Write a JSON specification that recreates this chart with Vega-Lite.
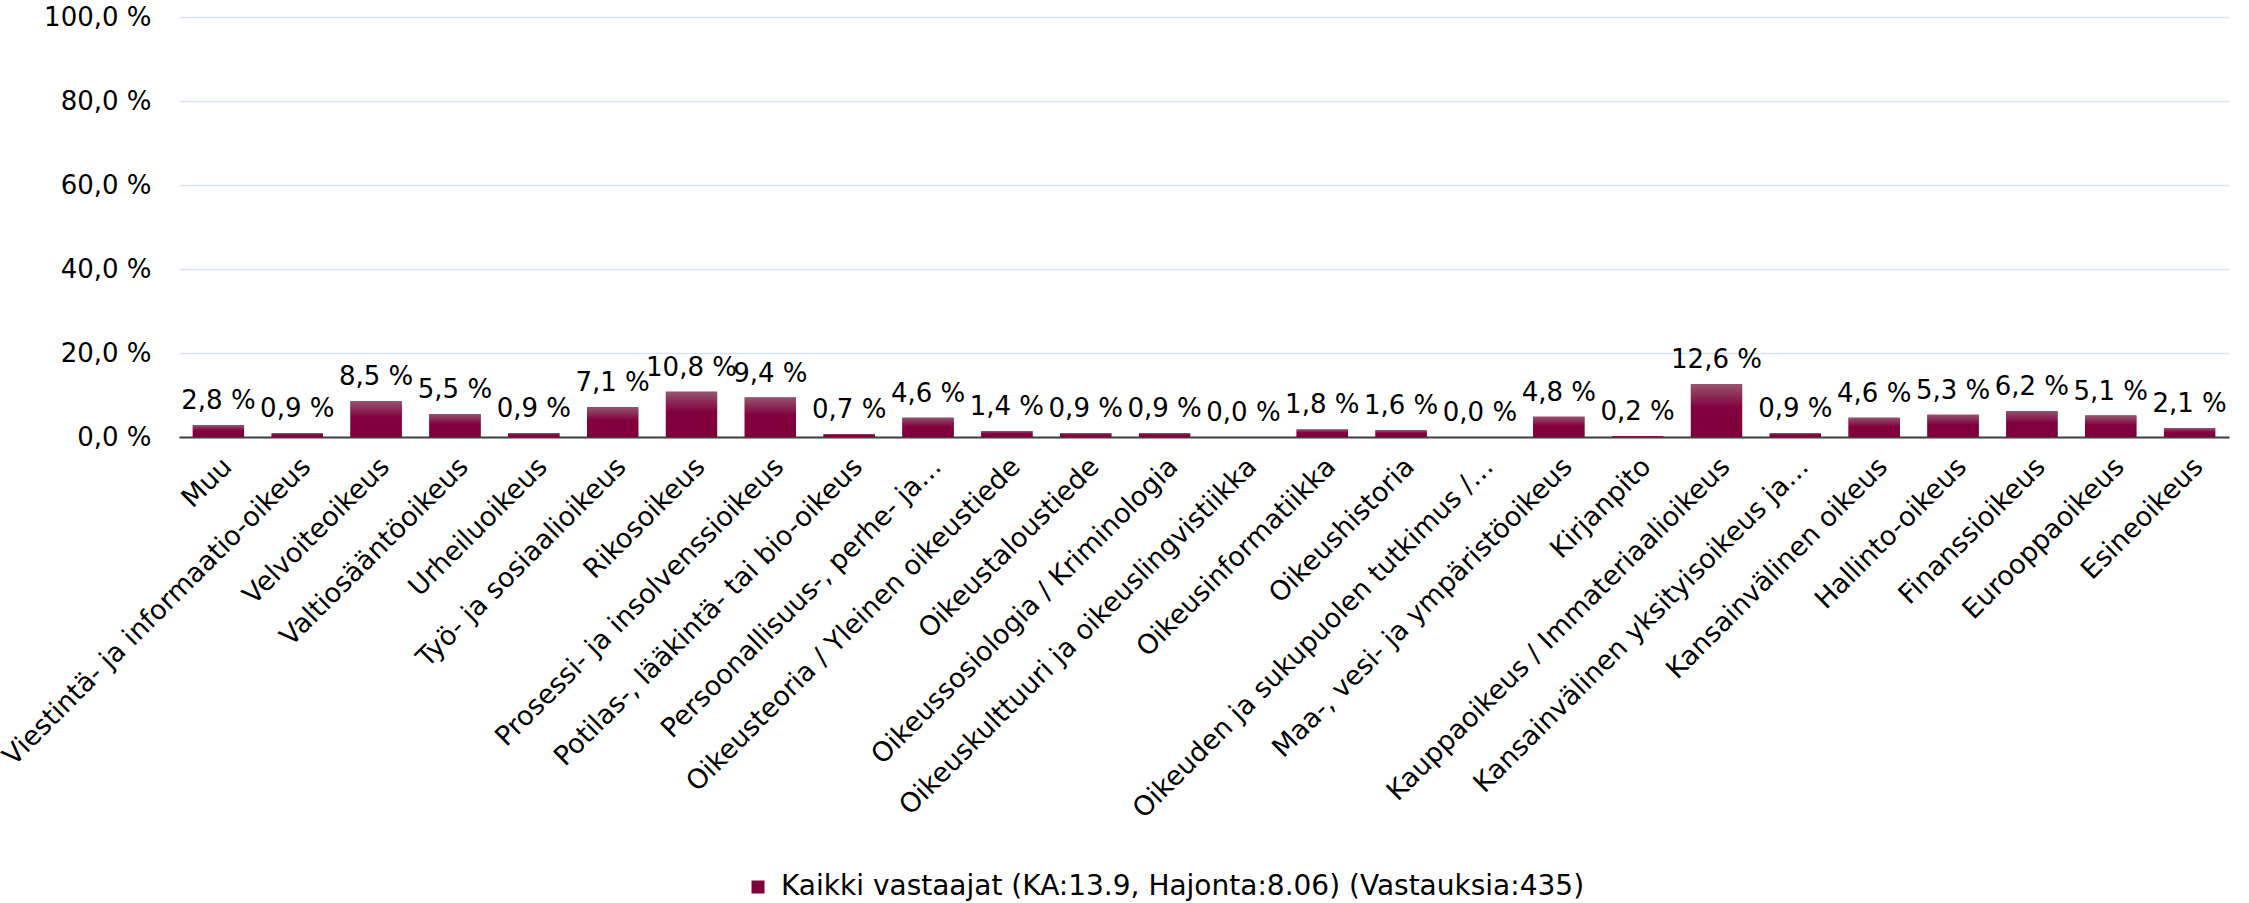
{
  "$schema": "https://vega.github.io/schema/vega-lite/v6.json",
  "width": 2050,
  "height": 420,
  "autosize": {"type": "none"},
  "padding": {"left": 179, "top": 17, "right": 20, "bottom": 466},
  "background": "white",
  "config": {"view": {"stroke": null}, "font": "DejaVu Sans"},
  "data": {
    "values": [
      {"ala": "Muu", "osuus": 2.8, "teksti": "2,8 %", "sarja": "Kaikki vastaajat (KA:13.9, Hajonta:8.06) (Vastauksia:435)"},
      {"ala": "Viestintä- ja informaatio-oikeus", "osuus": 0.9, "teksti": "0,9 %", "sarja": "Kaikki vastaajat (KA:13.9, Hajonta:8.06) (Vastauksia:435)"},
      {"ala": "Velvoiteoikeus", "osuus": 8.5, "teksti": "8,5 %", "sarja": "Kaikki vastaajat (KA:13.9, Hajonta:8.06) (Vastauksia:435)"},
      {"ala": "Valtiosääntöoikeus", "osuus": 5.5, "teksti": "5,5 %", "sarja": "Kaikki vastaajat (KA:13.9, Hajonta:8.06) (Vastauksia:435)"},
      {"ala": "Urheiluoikeus", "osuus": 0.9, "teksti": "0,9 %", "sarja": "Kaikki vastaajat (KA:13.9, Hajonta:8.06) (Vastauksia:435)"},
      {"ala": "Työ- ja sosiaalioikeus", "osuus": 7.1, "teksti": "7,1 %", "sarja": "Kaikki vastaajat (KA:13.9, Hajonta:8.06) (Vastauksia:435)"},
      {"ala": "Rikosoikeus", "osuus": 10.8, "teksti": "10,8 %", "sarja": "Kaikki vastaajat (KA:13.9, Hajonta:8.06) (Vastauksia:435)"},
      {"ala": "Prosessi- ja insolvenssioikeus", "osuus": 9.4, "teksti": "9,4 %", "sarja": "Kaikki vastaajat (KA:13.9, Hajonta:8.06) (Vastauksia:435)"},
      {"ala": "Potilas-, lääkintä- tai bio-oikeus", "osuus": 0.7, "teksti": "0,7 %", "sarja": "Kaikki vastaajat (KA:13.9, Hajonta:8.06) (Vastauksia:435)"},
      {"ala": "Persoonallisuus-, perhe- ja…", "osuus": 4.6, "teksti": "4,6 %", "sarja": "Kaikki vastaajat (KA:13.9, Hajonta:8.06) (Vastauksia:435)"},
      {"ala": "Oikeusteoria / Yleinen oikeustiede", "osuus": 1.4, "teksti": "1,4 %", "sarja": "Kaikki vastaajat (KA:13.9, Hajonta:8.06) (Vastauksia:435)"},
      {"ala": "Oikeustaloustiede", "osuus": 0.9, "teksti": "0,9 %", "sarja": "Kaikki vastaajat (KA:13.9, Hajonta:8.06) (Vastauksia:435)"},
      {"ala": "Oikeussosiologia / Kriminologia", "osuus": 0.9, "teksti": "0,9 %", "sarja": "Kaikki vastaajat (KA:13.9, Hajonta:8.06) (Vastauksia:435)"},
      {"ala": "Oikeuskulttuuri ja oikeuslingvistiikka", "osuus": 0.0, "teksti": "0,0 %", "sarja": "Kaikki vastaajat (KA:13.9, Hajonta:8.06) (Vastauksia:435)"},
      {"ala": "Oikeusinformatiikka", "osuus": 1.8, "teksti": "1,8 %", "sarja": "Kaikki vastaajat (KA:13.9, Hajonta:8.06) (Vastauksia:435)"},
      {"ala": "Oikeushistoria", "osuus": 1.6, "teksti": "1,6 %", "sarja": "Kaikki vastaajat (KA:13.9, Hajonta:8.06) (Vastauksia:435)"},
      {"ala": "Oikeuden ja sukupuolen tutkimus /…", "osuus": 0.0, "teksti": "0,0 %", "sarja": "Kaikki vastaajat (KA:13.9, Hajonta:8.06) (Vastauksia:435)"},
      {"ala": "Maa-, vesi- ja ympäristöoikeus", "osuus": 4.8, "teksti": "4,8 %", "sarja": "Kaikki vastaajat (KA:13.9, Hajonta:8.06) (Vastauksia:435)"},
      {"ala": "Kirjanpito", "osuus": 0.2, "teksti": "0,2 %", "sarja": "Kaikki vastaajat (KA:13.9, Hajonta:8.06) (Vastauksia:435)"},
      {"ala": "Kauppaoikeus / Immateriaalioikeus", "osuus": 12.6, "teksti": "12,6 %", "sarja": "Kaikki vastaajat (KA:13.9, Hajonta:8.06) (Vastauksia:435)"},
      {"ala": "Kansainvälinen yksityisoikeus ja…", "osuus": 0.9, "teksti": "0,9 %", "sarja": "Kaikki vastaajat (KA:13.9, Hajonta:8.06) (Vastauksia:435)"},
      {"ala": "Kansainvälinen oikeus", "osuus": 4.6, "teksti": "4,6 %", "sarja": "Kaikki vastaajat (KA:13.9, Hajonta:8.06) (Vastauksia:435)"},
      {"ala": "Hallinto-oikeus", "osuus": 5.3, "teksti": "5,3 %", "sarja": "Kaikki vastaajat (KA:13.9, Hajonta:8.06) (Vastauksia:435)"},
      {"ala": "Finanssioikeus", "osuus": 6.2, "teksti": "6,2 %", "sarja": "Kaikki vastaajat (KA:13.9, Hajonta:8.06) (Vastauksia:435)"},
      {"ala": "Eurooppaoikeus", "osuus": 5.1, "teksti": "5,1 %", "sarja": "Kaikki vastaajat (KA:13.9, Hajonta:8.06) (Vastauksia:435)"},
      {"ala": "Esineoikeus", "osuus": 2.1, "teksti": "2,1 %", "sarja": "Kaikki vastaajat (KA:13.9, Hajonta:8.06) (Vastauksia:435)"}
    ]
  },
  "encoding": {
    "x": {
      "field": "ala",
      "type": "nominal",
      "sort": null,
      "scale": {"paddingInner": 0.35, "paddingOuter": 0.175},
      "axis": {
        "title": null,
        "labelAngle": -45,
        "ticks": false,
        "domainColor": "#404040",
        "domainWidth": 2,
        "labelFontSize": 27,
        "labelFont": "DejaVu Sans",
        "labelColor": "#000000",
        "labelLimit": 0,
        "labelPadding": 16,
        "labelOverlap": false,
        "grid": false
      }
    },
    "y": {
      "field": "osuus",
      "type": "quantitative",
      "scale": {"domain": [0, 100], "nice": false},
      "axis": {
        "title": null,
        "values": [0, 20, 40, 60, 80, 100],
        "labelExpr": "replace(format(datum.value, '.1f'), '.', ',') + ' %'",
        "domain": false,
        "ticks": false,
        "labelPadding": 28,
        "labelFontSize": 26,
        "labelFont": "DejaVu Sans",
        "labelColor": "#000000",
        "gridColor": "#d9e3f0",
        "gridWidth": 1.5
      }
    }
  },
  "layer": [
    {
      "mark": {"type": "bar"},
      "encoding": {
        "color": {
          "field": "sarja",
          "type": "nominal",
          "scale": {"range": ["#80003c"]},
          "legend": {
            "title": null,
            "orient": "none",
            "legendX": 565,
            "legendY": 856,
            "symbolType": "square",
            "symbolSize": 169,
            "symbolStrokeWidth": 0,
            "labelFontSize": 28,
            "labelFont": "DejaVu Sans",
            "labelColor": "#000000",
            "labelLimit": 0,
            "labelOffset": 9
          }
        }
      }
    },
    {
      "mark": {
        "type": "bar",
        "color": {
          "gradient": "linear",
          "x1": 0, "y1": 0, "x2": 0, "y2": 1,
          "stops": [
            {"offset": 0, "color": "#955470"},
            {"offset": 0.45, "color": "#82003e"},
            {"offset": 1, "color": "#7e003a"}
          ]
        }
      }
    },
    {
      "mark": {"type": "text", "baseline": "alphabetic", "dy": -16, "fontSize": 26, "font": "DejaVu Sans", "color": "#000000"},
      "encoding": {"text": {"field": "teksti", "type": "nominal"}}
    }
  ]
}
